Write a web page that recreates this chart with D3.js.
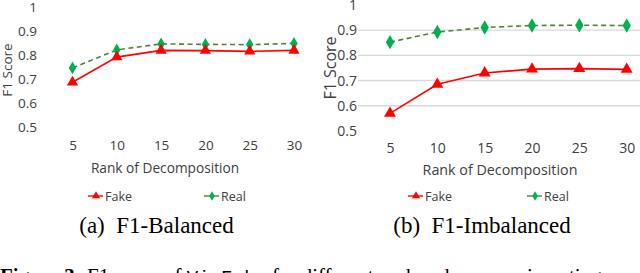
<!DOCTYPE html>
<html><head><meta charset="utf-8">
<script src="https://cdn.jsdelivr.net/npm/d3@7"></script>
<style>
html,body{margin:0;padding:0;background:#fff;overflow:hidden}
svg{display:block}
.ax text{font-family:"Open Sans",sans-serif;fill:#404040}
</style></head>
<body>
<svg id="c" width="640" height="273"></svg>
<script>
// ---- data ----
const ranks = [5, 10, 15, 20, 25, 30];
const yTickValues = [0.5, 0.6, 0.7, 0.8, 0.9, 1];
const yTickLabels = ["0.5", "0.6", "0.7", "0.8", "0.9", "1"];
const gridValues = [0.6, 0.7, 0.8, 0.9];
const seriesNames = ["Fake", "Real"];
const balancedFake = [0.685, 0.79, 0.818, 0.817, 0.814, 0.818];
const balancedReal = [0.745, 0.82, 0.845, 0.843, 0.842, 0.847];
const imbalancedFake = [0.57, 0.685, 0.73, 0.745, 0.747, 0.744];
const imbalancedReal = [0.852, 0.892, 0.91, 0.918, 0.919, 0.918];
const xTitle = "Rank of Decomposition";
const yTitle = "F1 Score";
const subCaptions = ["(a)  F1-Balanced", "(b)  F1-Imbalanced"];

const svg = d3.select("#c");
const RED = "#ff0000", GREEN = "#00b050", DASH = "#548235";

const panels = [
  {fake: balancedFake, real: balancedReal, x0: 72.5, x1: 294, y0: 126.7, y1: 6.7, grid: false,
   labX: 37, tickFs: 13.5, xLabY: 150, titleY: 173, titleFs: 13.7, titleX: 165, yTitX: 12, yTitY: 70, yTitFs: 13.5,
   leg: [96, 212], legY: 196, cap: subCaptions[0], capX: 156.5},
  {fake: imbalancedFake, real: imbalancedReal, x0: 390, x1: 626.7, y0: 131, y1: 4.8, grid: true,
   labX: 357, tickFs: 14, xLabY: 153, titleY: 175, titleFs: 14.3, titleX: 500, yTitX: 336, yTitY: 68, yTitFs: 16,
   leg: [416, 535], legY: 196, cap: subCaptions[1], capX: 482}
];

panels.forEach(p => {
  const x = d3.scaleLinear().domain([5, 30]).range([p.x0, p.x1]);
  const y = d3.scaleLinear().domain([0.5, 1]).range([p.y0, p.y1]);
  const g = svg.append("g").attr("class", "ax");

  if (p.grid) {
    g.selectAll("line.grid").data(gridValues).enter().append("line")
      .attr("x1", p.labX + 1).attr("x2", 645)
      .attr("y1", d => y(d)).attr("y2", d => y(d))
      .attr("stroke", "#d9d9d9").attr("stroke-width", 1.3);
  }

  // y axis
  const ya = g.append("g").attr("transform", `translate(${p.labX},0)`)
    .call(d3.axisLeft(y).tickValues(yTickValues).tickFormat((d, i) => yTickLabels[i]).tickSize(0).tickPadding(0));
  ya.select(".domain").remove();
  ya.selectAll("text").attr("font-size", p.tickFs).attr("font-family", "Open Sans").attr("fill", "#404040");

  // x axis
  const xa = g.append("g").attr("transform", `translate(0,${p.xLabY})`)
    .call(d3.axisBottom(x).tickValues(ranks).tickSize(0).tickPadding(0));
  xa.select(".domain").remove();
  xa.selectAll("text").attr("font-size", p.tickFs).attr("font-family", "Open Sans").attr("fill", "#404040")
    .attr("dy", 0).attr("y", 0);

  g.append("text").attr("x", p.titleX).attr("y", p.titleY).attr("text-anchor", "middle")
    .attr("font-size", p.titleFs).text(xTitle);
  g.append("text").attr("transform", `translate(${p.yTitX},${p.yTitY}) rotate(-90)`)
    .attr("text-anchor", "middle").attr("font-size", p.yTitFs).text(yTitle);

  const line = d3.line().x((d, i) => x(ranks[i])).y(d => y(d));
  g.append("path").datum(p.real).attr("d", line).attr("fill", "none")
    .attr("stroke", DASH).attr("stroke-width", 1.6).attr("stroke-dasharray", "5,3.5");
  g.append("path").datum(p.fake).attr("d", line).attr("fill", "none")
    .attr("stroke", RED).attr("stroke-width", 1.6);

  const tri = d3.symbol().type(d3.symbolTriangle).size(p.grid ? 62 : 55);
  const dia = d3.symbol().type(d3.symbolDiamond).size(p.grid ? 60 : 48);
  g.selectAll("path.rm").data(p.real).enter().append("path")
    .attr("d", dia).attr("fill", GREEN)
    .attr("transform", (d, i) => `translate(${x(ranks[i])},${y(d)})`);
  g.selectAll("path.fm").data(p.fake).enter().append("path")
    .attr("d", tri).attr("fill", RED)
    .attr("transform", (d, i) => `translate(${x(ranks[i])},${y(d)})`);

  // legend
  const legColors = [RED, DASH];
  const legMark = [d3.symbol().type(d3.symbolTriangle).size(28), d3.symbol().type(d3.symbolDiamond).size(26)];
  const markFill = [RED, GREEN];
  seriesNames.forEach((n, i) => {
    const cx = p.leg[i];
    g.append("line").attr("x1", cx - 8).attr("x2", cx + 7).attr("y1", p.legY).attr("y2", p.legY)
      .attr("stroke", legColors[i]).attr("stroke-width", 1.4);
    g.append("path").attr("d", legMark[i]).attr("fill", markFill[i])
      .attr("transform", `translate(${cx},${p.legY})`);
    g.append("text").attr("x", cx + 9).attr("y", p.legY + 4.5).attr("font-size", 12.5).text(n);
  });

  svg.append("text").attr("x", p.capX).attr("y", 233).attr("text-anchor", "middle")
    .attr("font-family", "Liberation Serif").attr("font-size", 23).attr("fill", "#000")
    .style("white-space", "pre").text(p.cap);
});

// figure caption (cut off at bottom)
const cap = svg.append("text").attr("x", 0).attr("y", 283)
  .attr("font-family", "Liberation Serif").attr("font-size", 21).attr("fill", "#000");
cap.append("tspan").attr("font-weight", "bold").text("Figure 3:");
cap.append("tspan").text(" F1 score of ");
cap.append("tspan").attr("font-family", "Liberation Mono").attr("font-size", 19).text("VirFake");
cap.append("tspan").text(" for different ranks when experimenting");
</script>
</body></html>
